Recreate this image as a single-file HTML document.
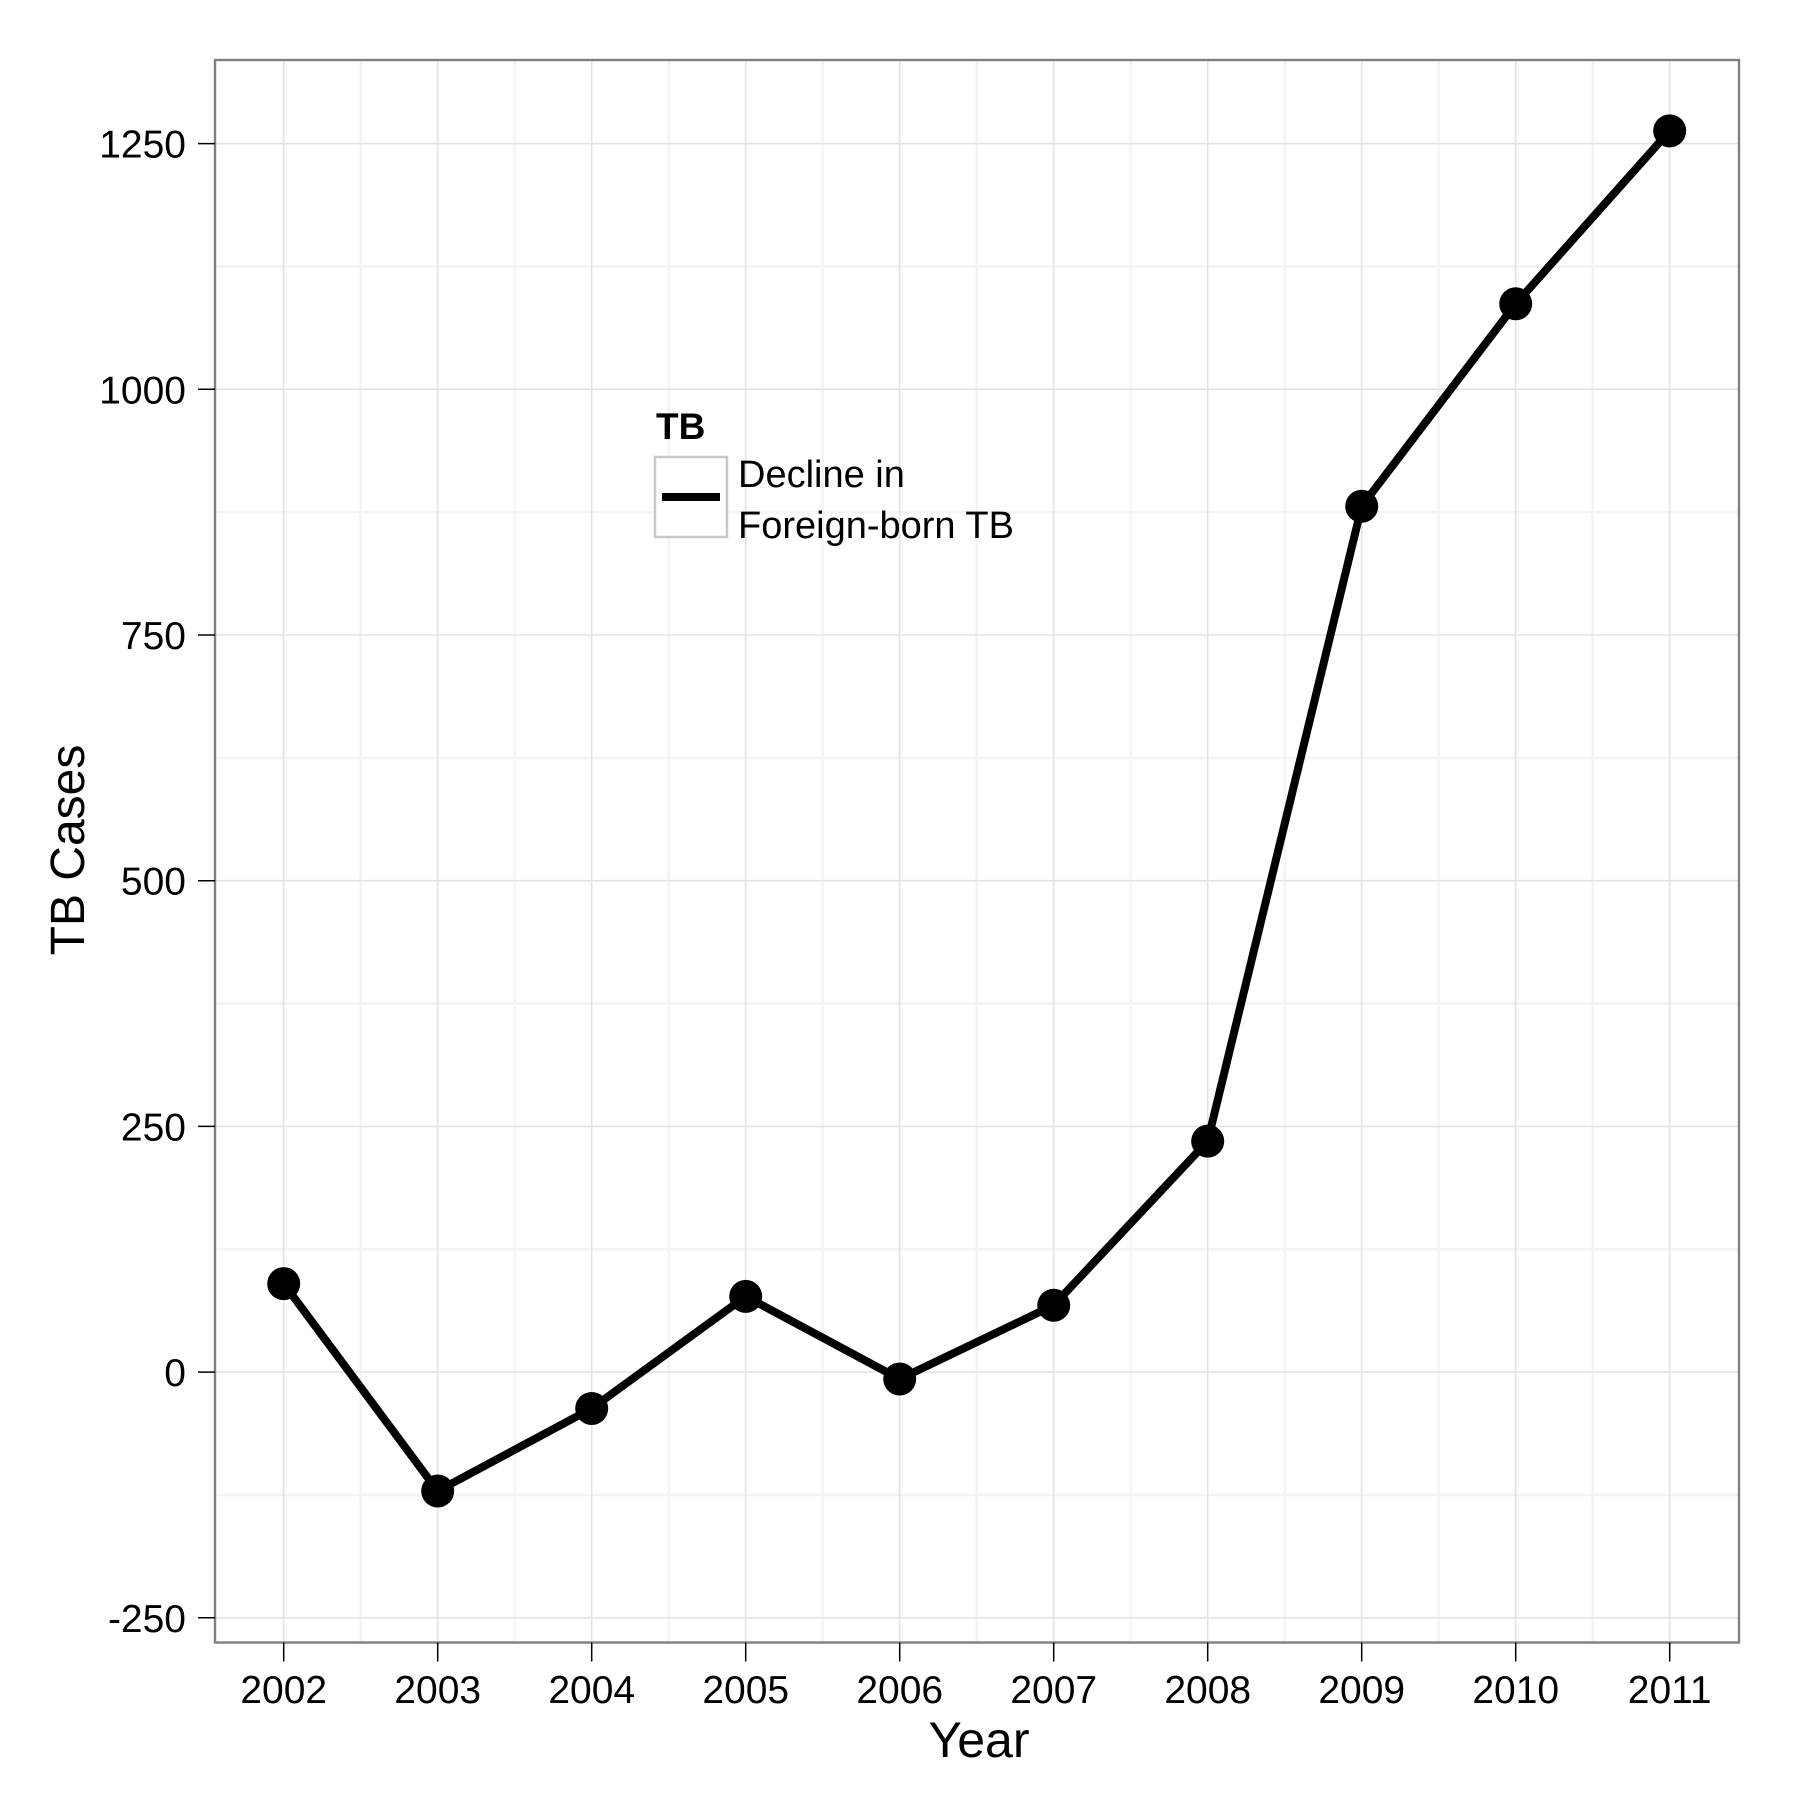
<!DOCTYPE html>
<html><head><meta charset="utf-8"><style>
html,body{margin:0;padding:0;background:#fff;}
svg{display:block;font-family:"Liberation Sans",Arial,sans-serif;}
</style></head><body>
<svg id="chart" width="1800" height="1800" viewBox="0 0 1800 1800" xmlns="http://www.w3.org/2000/svg">
<rect width="1800" height="1800" fill="#fff"/>
<g id="grid"></g>
<g id="series"></g>
<rect x="215" y="60" width="1524" height="1582.5" fill="none" stroke="#808080" stroke-width="2.4"/>
<g id="axes"></g>
<text x="979" y="1757" font-size="50" text-anchor="middle">Year</text>
<text transform="translate(84,850) rotate(-90)" font-size="48" text-anchor="middle">TB Cases</text>
<g>
<text x="656" y="439" font-size="37" font-weight="bold">TB</text>
<rect x="655" y="457" width="72" height="80" fill="#fff" stroke="#c8c8c8" stroke-width="2.5"/>
<line x1="662" y1="497" x2="720" y2="497" stroke="#000" stroke-width="8"/>
<text x="738" y="487" font-size="38">Decline in</text>
<text x="738" y="538" font-size="38">Foreign-born TB</text>
</g>
</svg>
<script>
const years = [2002,2003,2004,2005,2006,2007,2008,2009,2010,2011];
const cases = [90,-121,-37,77,-7,68,235,881,1087,1263];
const yTicks = [-250,0,250,500,750,1000,1250];
const yTickLabels = ["-250","0","250","500","750","1000","1250"];

const NS = "http://www.w3.org/2000/svg";
const X0 = 283.7, XSTEP = 154.0;
const Y_AT_1250 = 143.6, PX_PER_UNIT = 245.7/250;
function xScale(yr){ return X0 + (yr - years[0]) * XSTEP; }
function yScale(v){ return Y_AT_1250 + (1250 - v) * PX_PER_UNIT; }
const L=215, R=1739, T=60, B=1642.5;
function mk(tag, attrs, parent){
  const e=document.createElementNS(NS,tag);
  for(const k in attrs) e.setAttribute(k,attrs[k]);
  parent.appendChild(e); return e;
}
const grid=document.getElementById('grid');
const axes=document.getElementById('axes');
for(let i=0;i<yTicks.length-1;i++){
  const y=yScale((yTicks[i]+yTicks[i+1])/2);
  const l=mk('line',{x1:L,x2:R,y1:y,y2:y,stroke:'#f4f4f4','stroke-width':2.5},grid);
  
  
}
for(let i=0;i<years.length-1;i++){
  const x=xScale(years[i]+0.5);
  const l=mk('line',{x1:x,x2:x,y1:T,y2:B,stroke:'#f4f4f4','stroke-width':2.5},grid);
  
  
}
yTicks.forEach((v,i)=>{
  const y=yScale(v);
  const l=mk('line',{x1:L,x2:R,y1:y,y2:y,stroke:'#e3e3e3','stroke-width':1.6},grid);
  
  
  const t=mk('line',{x1:198,x2:L,y1:y,y2:y,stroke:'#000','stroke-width':1.5},axes);
  
  
  const tx=mk('text',{x:186,y:y+14,'font-size':39,'text-anchor':'end'},axes);
  tx.textContent=yTickLabels[i];
  
  
});
years.forEach(yr=>{
  const x=xScale(yr);
  const l=mk('line',{x1:x,x2:x,y1:T,y2:B,stroke:'#e3e3e3','stroke-width':1.6},grid);
  
  
  const t=mk('line',{x1:x,x2:x,y1:B,y2:B+19,stroke:'#000','stroke-width':1.5},axes);
  
  
  const tx=mk('text',{x:x,y:1703,'font-size':39,'text-anchor':'middle'},axes);
  tx.textContent=String(yr);
  
  
});
const s=document.getElementById('series');
const pts=years.map((yr,i)=>xScale(yr)+','+yScale(cases[i])).join(' ');
const pl=mk('polyline',{points:pts,fill:'none',stroke:'#000','stroke-width':8,'stroke-linejoin':'round'},s);


years.forEach((yr,i)=>{
  const c=mk('circle',{cx:xScale(yr),cy:yScale(cases[i]),r:16.5,fill:'#000'},s);
  
  
});
</script>
</body></html>
